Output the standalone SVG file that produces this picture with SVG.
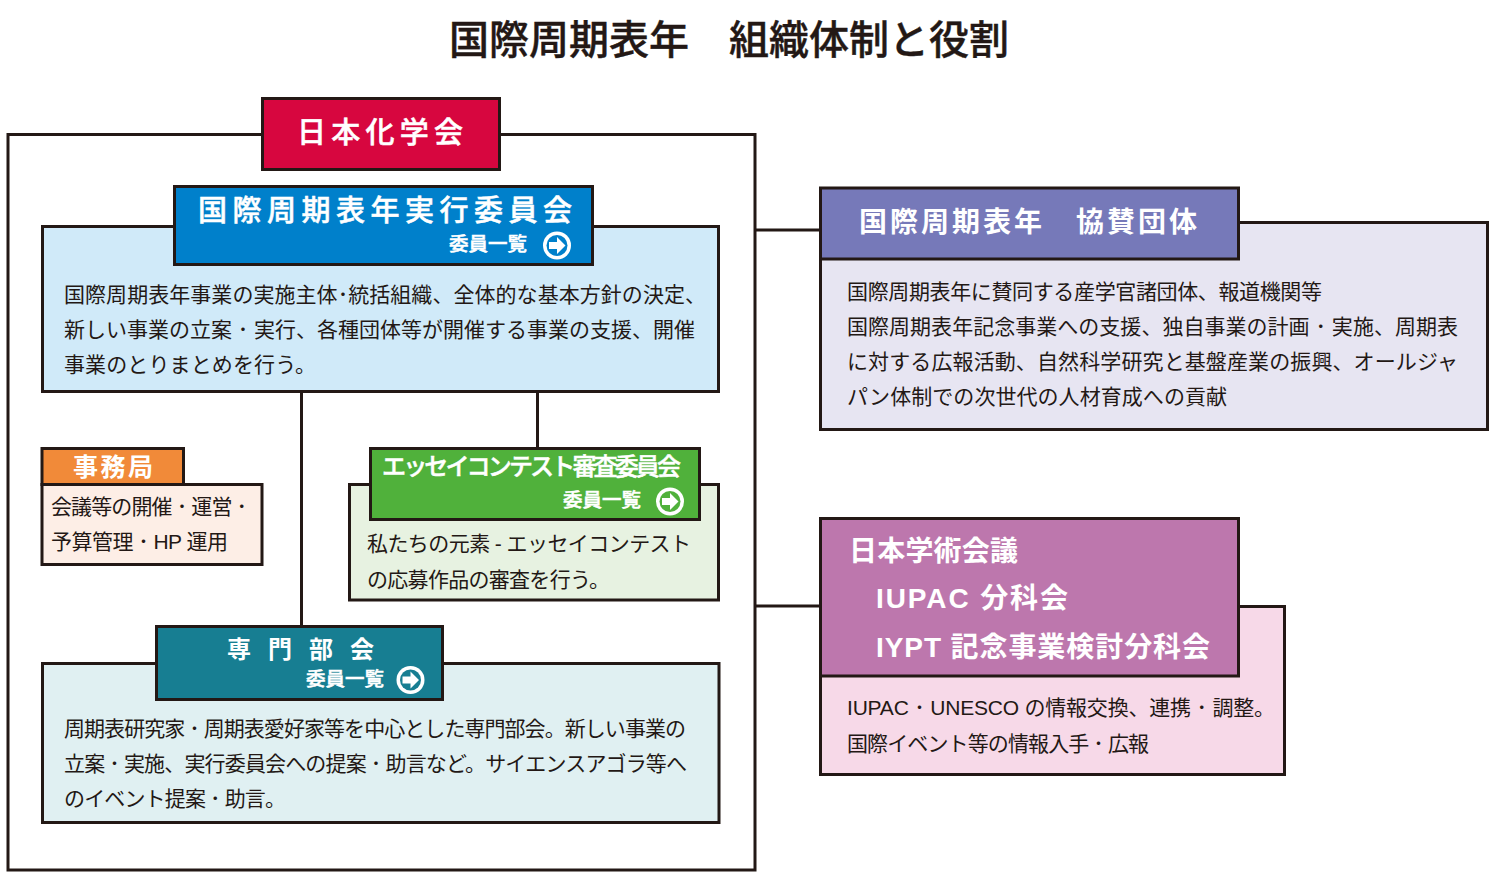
<svg xmlns="http://www.w3.org/2000/svg" width="1500" height="885" viewBox="0 0 1500 885">
<style>
text{font-family:"Liberation Sans","Noto Sans CJK JP",sans-serif}
rect,.c{stroke:#231815;stroke-width:3}
.c{fill:none}
.b{font-size:21px;fill:#231815}
.h{fill:#fff;font-weight:500;font-size:29px;stroke:#fff;stroke-width:.5px}
.s{font-weight:700;stroke:none}
.l{fill:#fff;font-size:19.5px;font-weight:500;stroke:#fff;stroke-width:.5px}
.o{fill:#fff}
.a{stroke:none}
</style>
<defs>
<g id="go"><circle class="o" r="14"/><circle r="10.500"/><path class="o" d="M-8-3.500H0V-8.500L8.500 0 0 8.500V3.500H-8Z"/></g>
</defs>
<rect class="a" width="1500" height="885" fill="#fff"/>
<text id="title" x="449" y="54" font-size="40" textLength="560" fill="#231815" stroke="#231815" stroke-width=".4" style="font-weight:500">国際周期表年　組織体制と役割</text>
<g id="connectors">
<rect x="8" y="134.500" width="747" height="735.500" fill="none"/>
<path class="c" d="M755 230H820M755 606H820M301.500 391V626M537.500 391V448"/>
</g>
<g id="n-cjs"><rect x="262.500" y="98.500" width="237" height="71" fill="#d7063f"/><text class="h" x="297" y="143" textLength="166">日本化学会</text></g>
<g id="n-exec"><rect x="42.500" y="226.500" width="676" height="165" fill="#d0eaf9"/><rect x="174.500" y="186.500" width="418" height="78" fill="#0080cb"/>
<text class="h" x="198" y="221" textLength="374">国際周期表年実行委員会</text><text class="l" x="449" y="251" textLength="78">委員一覧</text>
<use href="#go" x="557" y="245.500" fill="#0080cb"/>
<text class="b" x="64" y="302" textLength="642">国際周期表年事業の実施主体･統括組織、全体的な基本方針の決定、</text>
<text class="b" x="64" y="337" textLength="631">新しい事業の立案 ･ 実行、各種団体等が開催する事業の支援、開催</text>
<text class="b" x="64" y="372" textLength="252">事業のとりまとめを行う。</text></g>
<g id="n-office"><rect x="42" y="484.500" width="220" height="80" fill="#fdeee6"/><rect x="42" y="448.500" width="141.500" height="36" fill="#f18a39"/>
<text class="h s" x="73" y="476" style="font-size:25px" textLength="80">事務局</text>
<text class="b" x="51" y="514" textLength="196">会議等の開催 ･ 運営 ･</text>
<text class="b" x="51" y="549" textLength="177">予算管理 ･ HP 運用</text></g>
<g id="n-essay"><rect x="349.500" y="484.500" width="369" height="115.500" fill="#e7f2e1"/><rect x="370.500" y="448.500" width="329" height="71" fill="#50b13b"/>
<text class="h" x="382" y="475" style="font-size:24px" textLength="299">エッセイコンテスト審査委員会</text><text class="l" x="563" y="507" textLength="78">委員一覧</text>
<use href="#go" x="670" y="501.500" fill="#50b13b"/>
<text class="b" x="367" y="551" textLength="324">私たちの元素 - エッセイコンテスト</text>
<text class="b" x="367" y="587" textLength="243">の応募作品の審査を行う。</text></g>
<g id="n-expert"><rect x="42.500" y="663.500" width="676.500" height="159" fill="#e0f0f2"/><rect x="156.500" y="626.500" width="286" height="73" fill="#177e92"/>
<text class="h s" x="227" y="658" style="font-size:24px" textLength="147">専 門 部 会</text><text class="l" x="306" y="686" textLength="78">委員一覧</text>
<use href="#go" x="410.500" y="680" fill="#177e92"/>
<text class="b" x="64" y="736" textLength="622">周期表研究家 ･ 周期表愛好家等を中心とした専門部会。新しい事業の</text>
<text class="b" x="64" y="771" textLength="623">立案 ･ 実施、実行委員会への提案 ･ 助言など。サイエンスアゴラ等へ</text>
<text class="b" x="64" y="806" textLength="222">のイベント提案 ･ 助言。</text></g>
<g id="n-support"><rect x="820.500" y="222.500" width="667" height="207" fill="#e7e5f2"/><rect x="820.500" y="188" width="418" height="71" fill="#7679b9"/>
<text class="h s" x="859" y="232" style="font-size:28px" textLength="338">国際周期表年　協賛団体</text>
<text class="b" x="847" y="299" textLength="475">国際周期表年に賛同する産学官諸団体、報道機関等</text>
<text class="b" x="847" y="334" textLength="611">国際周期表年記念事業への支援、独自事業の計画 ･ 実施、周期表</text>
<text class="b" x="847" y="369" textLength="611">に対する広報活動、自然科学研究と基盤産業の振興、オールジャ</text>
<text class="b" x="847" y="404" textLength="380">パン体制での次世代の人材育成への貢献</text></g>
<g id="n-scj"><rect x="820.500" y="606.500" width="464" height="168" fill="#f7d9e8"/><rect x="820.500" y="518.500" width="418" height="157.500" fill="#bd77ad"/>
<text class="h s" x="849" y="561" style="font-size:28px" textLength="169">日本学術会議</text>
<text class="h s" x="876" y="608" style="font-size:28px" textLength="192">IUPAC 分科会</text>
<text class="h s" x="876" y="657" style="font-size:28px" textLength="334">IYPT 記念事業検討分科会</text>
<text class="b" x="847" y="715" textLength="428">IUPAC ･ UNESCO の情報交換、連携 ･ 調整。</text>
<text class="b" x="847" y="751" textLength="302">国際イベント等の情報入手 ･ 広報</text></g>
</svg>
